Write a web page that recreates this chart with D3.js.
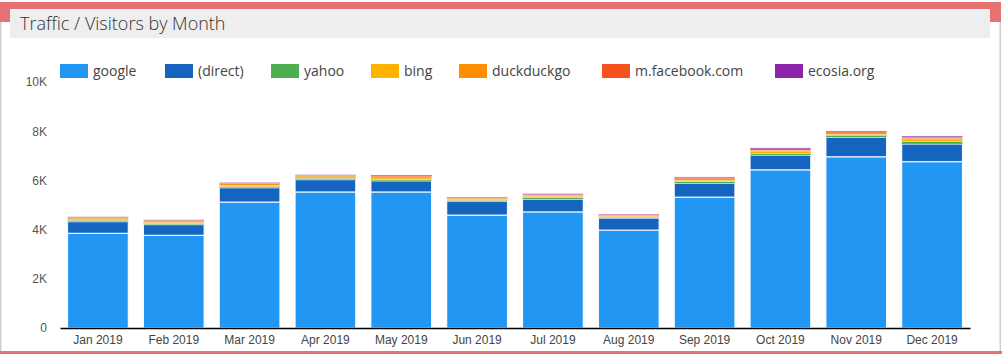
<!DOCTYPE html>
<html>
<head>
<meta charset="utf-8">
<script src="https://cdn.jsdelivr.net/npm/d3@7"></script>
<style>
  body { margin: 0; background: #fff; }
  svg { display: block; font-family: "Open Sans", "DejaVu Sans", sans-serif; }
</style>
</head>
<body>
<div class="container"></div>
<script>
// months shown on the x axis
const months = ["Jan 2019", "Feb 2019", "Mar 2019", "Apr 2019", "May 2019", "Jun 2019",
                "Jul 2019", "Aug 2019", "Sep 2019", "Oct 2019", "Nov 2019", "Dec 2019"];

// traffic sources, stacked bottom to top
const sources = ["google", "(direct)", "yahoo", "bing", "duckduckgo", "m.facebook.com", "ecosia.org"];
const colors = ["#2196f3", "#1565c0", "#4caf50", "#ffb300", "#ff8f00", "#f4511e", "#8e24aa"];

// visitors per source and month
const google     = [3850, 3770, 5120, 5530, 5530, 4590, 4720, 3980, 5320, 6430, 6960, 6760];
const direct     = [470, 430, 580, 500, 450, 570, 520, 490, 570, 600, 800, 720];
const yahoo      = [60, 40, 50, 60, 60, 30, 60, 30, 60, 70, 50, 90];
const bing       = [50, 60, 60, 50, 60, 40, 50, 40, 60, 70, 60, 80];
const duckduckgo = [40, 50, 50, 40, 50, 40, 50, 40, 60, 60, 60, 60];
const facebook   = [30, 30, 30, 30, 40, 30, 30, 30, 40, 50, 50, 50];
const ecosia     = [20, 20, 20, 20, 30, 20, 30, 20, 30, 40, 30, 40];

const yTicks = [0, 2000, 4000, 6000, 8000, 10000];
const yTickLabels = ["0", "2K", "4K", "6K", "8K", "10K"];

// legend swatch positions, as laid out in the original
const legendX = [60, 165, 271, 371, 459, 602, 775];

const series = [google, direct, yahoo, bing, duckduckgo, facebook, ecosia];

const table = months.map((m, i) => {
    const row = { month: m };
    sources.forEach((s, j) => row[s] = series[j][i]);
    return row;
});

const W = 1002, H = 354;
const margin = { top: 82, right: 32, bottom: 26, left: 60 };

const svg = d3.select(".container")
    .append("svg")
    .attr("width", W)
    .attr("height", H);

// card frame
svg.append("rect").attr("x", 0).attr("y", 2).attr("width", 1001).attr("height", 20).attr("fill", "#e57373");
svg.append("rect").attr("x", 0).attr("y", 22).attr("width", 1.5).attr("height", 330).attr("fill", "#cfcfcf");
svg.append("rect").attr("x", 999.5).attr("y", 22).attr("width", 1.5).attr("height", 330).attr("fill", "#cfcfcf");
svg.append("rect").attr("x", 0).attr("y", 351).attr("width", 1002).attr("height", 3).attr("fill", "#e57373");
svg.append("rect").attr("x", 10).attr("y", 9).attr("width", 980).attr("height", 29).attr("fill", "#eeeeee");

svg.append("text")
    .attr("x", 20)
    .attr("y", 30)
    .attr("font-size", 18)
    .attr("font-weight", 300)
    .attr("fill", "#333")
    .text("Traffic / Visitors by Month");

// legend
const legend = svg.append("g")
    .selectAll("g")
    .data(sources)
    .join("g")
    .attr("transform", (d, i) => `translate(${legendX[i]}, 64)`);

legend.append("rect")
    .attr("width", 28)
    .attr("height", 14)
    .attr("fill", (d, i) => colors[i]);

legend.append("text")
    .attr("x", 33)
    .attr("y", 12)
    .attr("font-size", 14)
    .attr("fill", "#444")
    .text(d => d);

// scales
const x = d3.scaleBand()
    .domain(months)
    .range([margin.left, W - margin.right])
    .paddingInner(0.2)
    .paddingOuter(0.1);

const y = d3.scaleLinear()
    .domain([0, 10000])
    .range([H - margin.bottom, margin.top]);

const color = d3.scaleOrdinal().domain(sources).range(colors);

const stacked = d3.stack().keys(sources)(table);

// white separators only between the two large segments and the thin ones
svg.append("g")
    .selectAll("g")
    .data(stacked)
    .join("g")
    .attr("fill", d => color(d.key))
    .attr("stroke", "#fff")
    .attr("stroke-width", d => d.index < 2 ? 1 : 0.25)
    .selectAll("rect")
    .data(d => d)
    .join("rect")
    .attr("x", d => x(d.data.month))
    .attr("y", d => y(d[1]))
    .attr("width", x.bandwidth())
    .attr("height", d => y(d[0]) - y(d[1]));

// axes
const yAxis = d3.axisLeft(y)
    .tickValues(yTicks)
    .tickFormat((d, i) => yTickLabels[i])
    .tickSize(0)
    .tickPadding(13);

svg.append("g")
    .attr("transform", `translate(${margin.left}, 0)`)
    .call(yAxis)
    .call(g => g.select(".domain").remove())
    .call(g => g.selectAll("text").attr("font-size", 12).attr("fill", "#555").attr("font-family", null));

const xAxis = d3.axisBottom(x)
    .tickSize(0)
    .tickPadding(7);

svg.append("g")
    .attr("transform", `translate(0, ${H - margin.bottom})`)
    .call(xAxis)
    .call(g => g.select(".domain").attr("stroke", "#000").attr("stroke-width", 1.5))
    .call(g => g.selectAll("text").attr("font-size", 12).attr("fill", "#444").attr("font-family", null));
</script>
</body>
</html>
